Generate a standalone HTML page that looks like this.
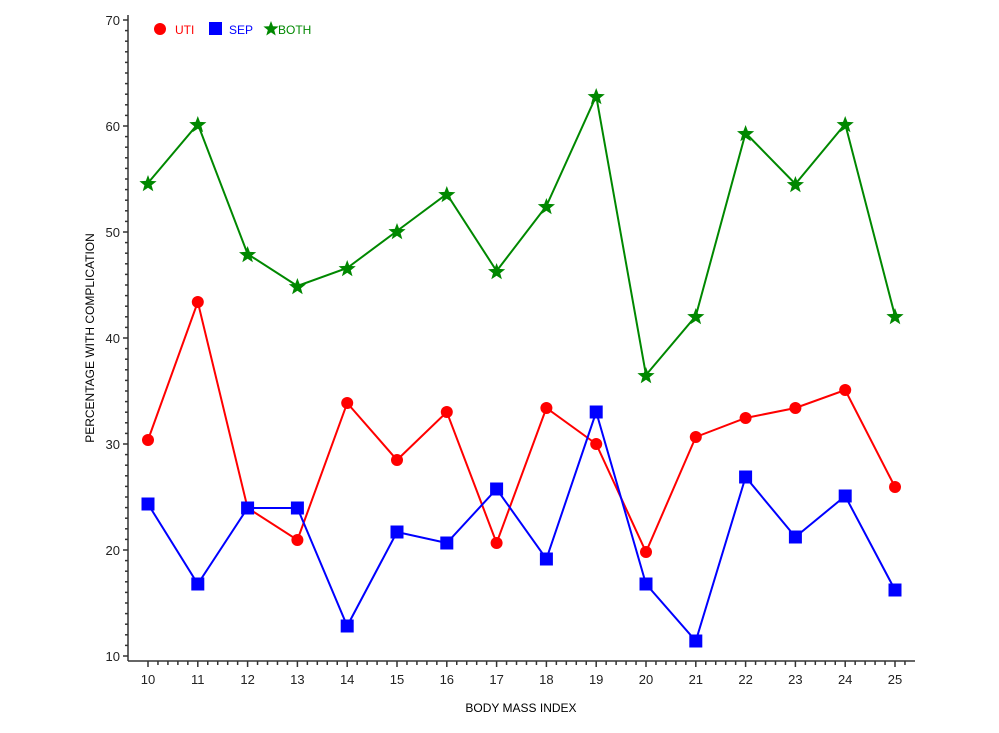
<!DOCTYPE html>
<html><head><meta charset="utf-8"><style>body{margin:0;background:#fff}svg{display:block}</style></head>
<body>
<svg id="s" width="999" height="733" xmlns="http://www.w3.org/2000/svg" font-family="Liberation Sans, sans-serif">
<text x="521" y="712" font-size="12" text-anchor="middle" fill="#000">BODY MASS INDEX</text>
<text transform="translate(94,338) rotate(-90)" font-size="12" text-anchor="middle" fill="#000">PERCENTAGE WITH COMPLICATION</text>
<g id="ax" stroke="#333" stroke-width="1.5" fill="none"></g>
<g id="lbl" font-size="13" fill="#222"></g>
<g id="ser"></g>
<g font-size="12">
<circle cx="160" cy="29" r="6" fill="#f00"/><text x="175" y="34" fill="#f00">UTI</text>
<rect x="209" y="22" width="13" height="13" fill="#00f"/><text x="229" y="34" fill="#00f">SEP</text>
<polygon id="lst" fill="#080"/><text x="278" y="34" fill="#080">BOTH</text>
</g>
</svg>
<script>
const NS="http://www.w3.org/2000/svg";
function el(t,a,p){const e=document.createElementNS(NS,t);for(const k in a)e.setAttribute(k,a[k]);p.appendChild(e);return e;}
const ax=document.getElementById('ax'),lbl=document.getElementById('lbl'),ser=document.getElementById('ser');
const X0=128,Y1=661,XR=915;
el('line',{x1:X0,y1:15,x2:X0,y2:Y1},ax);el('line',{x1:X0,y1:Y1,x2:XR,y2:Y1},ax);
function yp(v){return 656-(v-10)*10.6;}
function xp(v){return 148+(v-10)*49.8;}
for(let v=10;v<=70;v++){const y=yp(v);el('line',{x1:X0,y1:y,x2:X0-(v%10==0?5:3),y2:y},ax);
 if(v%10==0){const t=el('text',{x:X0-8,y:y+5,'text-anchor':'end'},lbl);t.textContent=v;}}
for(let i=0;i<=76;i++){const v=10+i*0.2;const x=xp(v);if(x>XR)break;const maj=i%5==0;
 el('line',{x1:x,y1:Y1,x2:x,y2:Y1+(maj?6:4)},ax);
 if(maj){const t=el('text',{x:x,y:684,'text-anchor':'middle'},lbl);t.textContent=Math.round(v);}}
const uti=[440,302,508,540,403,460,412,543,408,444,552,437,418,408,390,487];
const sep=[504,584,508,508,626,532,543,489,559,412,584,641,477,537,496,590];
const both=[183,124,254,286,268,231,194,271,206,96,375,316,133,184,124,316];
function star(cx,cy,R){let p=[];for(let i=0;i<10;i++){const r=i%2?R*0.42:R;const a=-Math.PI/2+i*Math.PI/5;p.push((cx+r*Math.cos(a)).toFixed(1)+','+(cy+r*Math.sin(a)).toFixed(1));}return p.join(' ');}
function line(d,c){el('polyline',{points:d.map((y,i)=>xp(10+i)+','+y).join(' '),fill:'none',stroke:c,'stroke-width':2},ser);}
line(uti,'#f00');line(sep,'#00f');line(both,'#080');
uti.forEach((y,i)=>el('circle',{cx:xp(10+i),cy:y,r:6,fill:'#f00'},ser));
sep.forEach((y,i)=>el('rect',{x:xp(10+i)-6.5,y:y-6.5,width:13,height:13,fill:'#00f'},ser));
both.forEach((y,i)=>el('polygon',{points:star(xp(10+i),y+1,9),fill:'#080'},ser));
document.getElementById('lst').setAttribute('points',star(271,29,8));
</script>
</body></html>
